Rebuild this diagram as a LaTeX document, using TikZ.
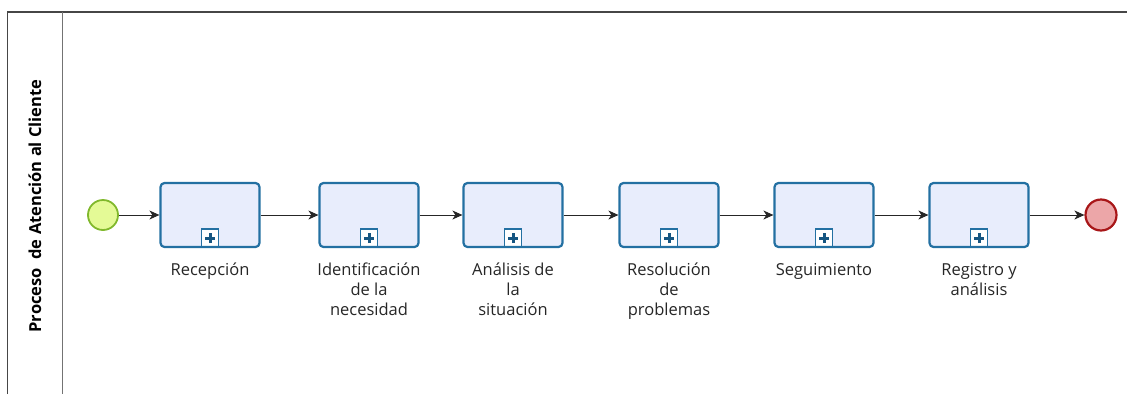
\documentclass[tikz,border=0pt]{standalone}
\usepackage{fontspec}
\setmainfont{Open Sans}
\usetikzlibrary{
    arrows.meta,
    positioning
}
\definecolor{taskblue}{RGB}{35,112,162}
\definecolor{taskfill}{RGB}{232,237,252}
\definecolor{plusblue}{RGB}{22,86,130}
\definecolor{startfill}{RGB}{228,250,150}
\definecolor{startline}{RGB}{128,184,44}
\definecolor{endfill}{RGB}{236,166,168}
\definecolor{endline}{RGB}{168,22,24}
\definecolor{poolline}{RGB}{70,70,70}

\tikzset{
    task/.style={draw=taskblue, fill=taskfill, line width=2.2pt, rounded corners=4pt,
        minimum width=99pt, minimum height=64pt, inner sep=0pt,
        path picture={
            \coordinate (pb) at (path picture bounding box.south);
            \draw[taskblue, line width=1.8pt, fill=white, sharp corners]
                ([xshift=-8.5pt]pb) rectangle ([xshift=8.5pt, yshift=18pt]pb);
            \draw[plusblue, line width=3pt]
                ([xshift=-5pt, yshift=9pt]pb) -- ([xshift=5pt, yshift=9pt]pb)
                ([yshift=4pt]pb) -- ([yshift=14pt]pb);
        }},
    tasklabel/.style={align=center, inner sep=0pt, font=\fontsize{16.5}{20}\selectfont, text=black!85},
    startev/.style={circle, draw=startline, fill=startfill, line width=1.8pt, minimum size=30pt, inner sep=0pt},
    endev/.style={circle, draw=endline, fill=endfill, line width=2.2pt, minimum size=31pt, inner sep=0pt},
    flow/.style={-{Stealth[length=10pt, width=9pt, inset=3pt]}, line width=0.9pt, black!85},
    pool/.style={draw=poolline, line width=1.1pt}
}

\begin{document}
\begin{tikzpicture}[x=1pt, y=-1pt]
    \useasboundingbox (0,0) rectangle (1127,394);

    % pool and lane
    \draw[pool] (7.5,394) -- (7.5,12) -- (1127,12);
    \draw[pool, draw=black!55] (62.5,12) -- (62.5,394);
    \node[rotate=90, font=\bfseries\fontsize{16.5}{20}\selectfont] (lane) at (35,206) {Proceso~ de Atención al Cliente};

    % events and tasks
    \node[startev] (s0) at (103,215) {};
    \node[task] (t1) at (210,215) {};
    \node[task] (t2) at (369,215) {};
    \node[task] (t3) at (513,215) {};
    \node[task] (t4) at (669,215) {};
    \node[task] (t5) at (824,215) {};
    \node[task] (t6) at (979,215) {};
    \node[endev] (e0) at (1101,215) {};

    % labels
    \node[tasklabel, below=15pt of t1] (l1) {Recepción};
    \node[tasklabel, below=15pt of t2] (l2) {Identificación\\de la\\necesidad};
    \node[tasklabel, below=15pt of t3] (l3) {Análisis de\\la\\situación};
    \node[tasklabel, below=15pt of t4] (l4) {Resolución\\de\\problemas};
    \node[tasklabel, below=15pt of t5] (l5) {Seguimiento};
    \node[tasklabel, below=15pt of t6] (l6) {Registro y\\análisis};

    % sequence flows
    \draw
    (s0) edge[flow] (t1)
    (t1) edge[flow] (t2)
    (t2) edge[flow] (t3)
    (t3) edge[flow] (t4)
    (t4) edge[flow] (t5)
    (t5) edge[flow] (t6)
    (t6) edge[flow] (e0);
\end{tikzpicture}
\end{document}
